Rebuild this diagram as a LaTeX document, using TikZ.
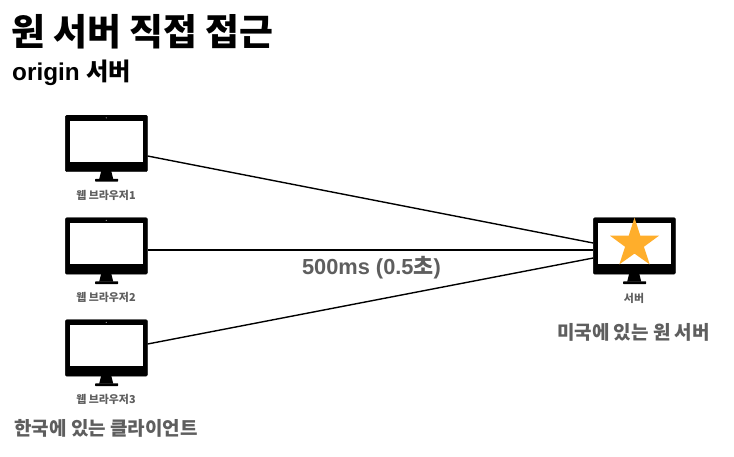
\documentclass[tikz,border=0pt]{standalone}
\usepackage{fontspec}
\setmainfont{Liberation Sans}
\newfontfamily\kr{Noto Sans CJK KR}
\definecolor{labelgray}{HTML}{5E5E5E}
\definecolor{staryellow}{HTML}{FFAE2B}
\tikzset{
  bezel/.style={draw=black,fill=black,rounded corners=1.2pt,minimum width=82pt,minimum height=56.5pt,inner sep=0pt},
  link/.style={draw=black,line width=1.4pt},
  smalllabel/.style={text=labelgray,inner sep=0pt,font=\kr\bfseries\fontsize{10.9}{12}\selectfont},
  biglabel/.style={text=labelgray,inner sep=0pt,font=\kr\bfseries\fontsize{19}{22}\selectfont},
}
\newcommand{\monitor}[3]{% name, left x, top y
  \node[bezel,anchor=north west] (#1) at (#2,#3) {};
  \fill[white] (#2+5,#3+5.6) rectangle (#2+77.5,#3+46.6);
  \fill[white] (#2+41,#3+2.8) circle (.5);
  \fill[black] (#2+36,#3+56) -- (#2+46,#3+56) -- (#2+48,#3+64) -- (#2+34,#3+64) -- cycle;
  \fill[black,rounded corners=.5pt] (#2+30,#3+63.8) rectangle (#2+53,#3+66.5);
}
\begin{document}
\begin{tikzpicture}[x=1pt,y=-1pt]
\useasboundingbox (0,0) rectangle (734,456);
\fill[white] (0,0) rectangle (734,456);
\monitor{m1}{65.2}{115}
\monitor{m2}{65.2}{217.5}
\monitor{m3}{65.2}{319.5}
\monitor{srv}{593.2}{217.5}
\fill[staryellow] (634.5,217.7) -- (640.3,235.7) -- (659,235.7) -- (643.9,246.8) -- (649.7,264.4) -- (634.5,253.6) -- (619.3,264.4) -- (625.1,246.8) -- (610,235.7) -- (628.7,235.7) -- cycle;
\coordinate (a1) at (m1.east |- 0,156);
\coordinate (a2) at (m2.east |- 0,250);
\coordinate (a3) at (m3.east |- 0,344);
\coordinate (b1) at (srv.west |- 0,243);
\coordinate (b2) at (srv.west |- 0,250);
\coordinate (b3) at (srv.west |- 0,258);
\draw[link] (a1) -- (b1);
\draw[link] (a2) -- (b2);
\draw[link] (a3) -- (b3);
\node[anchor=base west,inner sep=0pt,font=\kr\bfseries\fontsize{36.8}{40}\selectfont] (title) at (11,45) {원 서버 직접 접근};
\node[anchor=base west,inner sep=0pt,font=\bfseries\fontsize{24.3}{26}\selectfont] (sub) at (12,80) {origin {\kr 서버}};
\node[smalllabel] (l1) at (106,195) {웹 브라우저1};
\node[smalllabel] (l2) at (106,297.5) {웹 브라우저2};
\node[smalllabel] (l3) at (106,399.5) {웹 브라우저3};
\node[smalllabel] (l4) at (634,298) {서버};
\node[biglabel] (l5) at (633.5,332) {미국에 있는 원 서버};
\node[biglabel] (l6) at (106,428) {한국에 있는 클라이언트};
\node[text=labelgray,inner sep=0pt,font=\bfseries\fontsize{21.8}{24}\selectfont] (l7) at (371.5,268) {500ms (0.5{\kr 초})};
\end{tikzpicture}
\end{document}
